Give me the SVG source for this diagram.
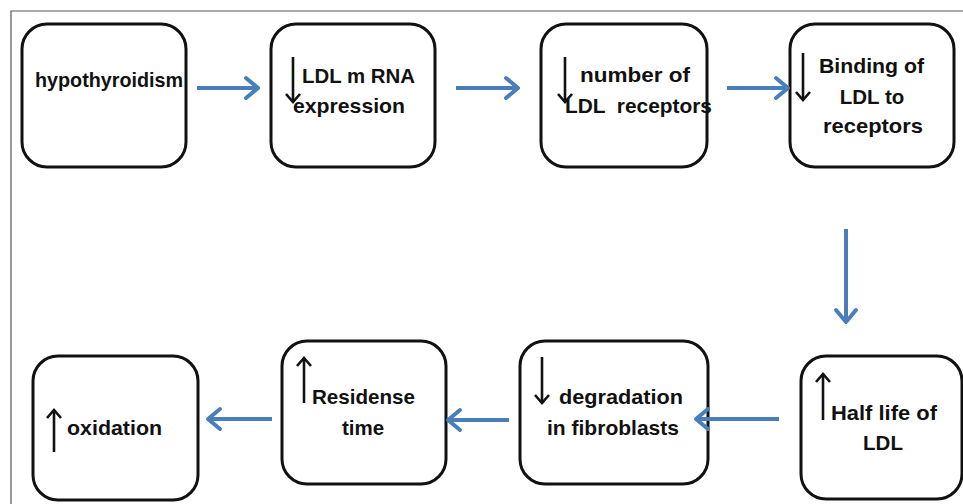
<svg xmlns="http://www.w3.org/2000/svg" width="963" height="504" viewBox="0 0 963 504">
<style>
.box{fill:#fff;stroke:#111;stroke-width:3}
.t{font-family:"Liberation Sans",Arial,sans-serif;font-weight:bold;font-size:20.5px;fill:#111}
.m{text-anchor:middle}
.conn{stroke:#4a7ebb;stroke-width:4;fill:none}
.head{stroke:#4a7ebb;stroke-width:4;fill:none;stroke-linecap:round;stroke-linejoin:round}
.ar{stroke:#111;stroke-width:2.6;fill:none}
</style>
<defs>
<marker id="bh" markerUnits="userSpaceOnUse" markerWidth="24" markerHeight="24" refX="20" refY="12" orient="auto" overflow="visible">
<path d="M8,2 L20,12 L8,22" class="head"/>
</marker>
<marker id="kh" markerUnits="userSpaceOnUse" markerWidth="16" markerHeight="16" refX="12" refY="8" orient="auto" overflow="visible">
<path d="M4,1 L12,8 L4,15" fill="none" stroke="#111" stroke-width="2.6"/>
</marker>
</defs>
<rect width="963" height="504" fill="#fff"/>
<path d="M11,504 V11 H963" fill="none" stroke="#555" stroke-width="1.2"/>

<g id="n1">
<rect class="box" x="22" y="24" width="164" height="143" rx="25"/>
<text class="t" x="35" y="87" textLength="148" lengthAdjust="spacingAndGlyphs">hypothyroidism</text>
</g>
<g id="n2">
<rect class="box" x="271" y="24" width="164" height="143" rx="25"/>
<line class="ar" x1="293" y1="57" x2="293" y2="102" marker-end="url(#kh)"/>
<text class="t" x="302" y="83" textLength="113" lengthAdjust="spacingAndGlyphs">LDL m RNA</text>
<text class="t" x="293" y="113" textLength="112" lengthAdjust="spacingAndGlyphs">expression</text>
</g>
<g id="n3">
<rect class="box" x="541" y="24" width="166" height="143" rx="25"/>
<line class="ar" x1="565" y1="57" x2="565" y2="102" marker-end="url(#kh)"/>
<text class="t" x="580" y="82" textLength="110" lengthAdjust="spacingAndGlyphs">number of</text>
<text class="t" x="565" y="113" textLength="147" lengthAdjust="spacingAndGlyphs" xml:space="preserve">LDL  receptors</text>
</g>
<g id="n4">
<rect class="box" x="790" y="24" width="164" height="143" rx="25"/>
<line class="ar" x1="803" y1="53" x2="803" y2="100" marker-end="url(#kh)"/>
<text class="t" x="819" y="73" textLength="105" lengthAdjust="spacingAndGlyphs">Binding of</text>
<text class="t m" x="872" y="104">LDL to</text>
<text class="t" x="823" y="133" textLength="100" lengthAdjust="spacingAndGlyphs">receptors</text>
</g>
<g id="n5">
<rect class="box" x="801" y="356" width="161" height="143" rx="25"/>
<line class="ar" x1="823" y1="420" x2="823" y2="374" marker-end="url(#kh)"/>
<text class="t" x="831" y="420" textLength="106" lengthAdjust="spacingAndGlyphs">Half life of</text>
<text class="t m" x="883" y="450">LDL</text>
</g>
<g id="n6">
<rect class="box" x="520" y="341" width="188" height="143" rx="25"/>
<line class="ar" x1="542" y1="357" x2="542" y2="403" marker-end="url(#kh)"/>
<text class="t" x="559" y="404" textLength="124" lengthAdjust="spacingAndGlyphs">degradation</text>
<text class="t" x="547" y="435" textLength="132" lengthAdjust="spacingAndGlyphs">in fibroblasts</text>
</g>
<g id="n7">
<rect class="box" x="282" y="341" width="164" height="143" rx="25"/>
<line class="ar" x1="304" y1="403" x2="304" y2="358" marker-end="url(#kh)"/>
<text class="t" x="312" y="404" textLength="103" lengthAdjust="spacingAndGlyphs">Residense</text>
<text class="t m" x="363" y="435">time</text>
</g>
<g id="n8">
<rect class="box" x="33" y="356" width="165" height="144" rx="25"/>
<line class="ar" x1="54" y1="452" x2="54" y2="410" marker-end="url(#kh)"/>
<text class="t" x="67" y="435" textLength="95" lengthAdjust="spacingAndGlyphs">oxidation</text>
</g>

<g id="connectors">
<line class="conn" x1="197" y1="88" x2="258" y2="88" marker-end="url(#bh)"/>
<line class="conn" x1="456" y1="88" x2="518" y2="88" marker-end="url(#bh)"/>
<line class="conn" x1="727" y1="88" x2="788" y2="88" marker-end="url(#bh)"/>
<line class="conn" x1="846" y1="229" x2="846" y2="322" marker-end="url(#bh)"/>
<line class="conn" x1="779" y1="419" x2="696" y2="419" marker-end="url(#bh)"/>
<line class="conn" x1="509" y1="420" x2="448" y2="420" marker-end="url(#bh)"/>
<line class="conn" x1="272" y1="419" x2="208" y2="419" marker-end="url(#bh)"/>
</g>
</svg>
